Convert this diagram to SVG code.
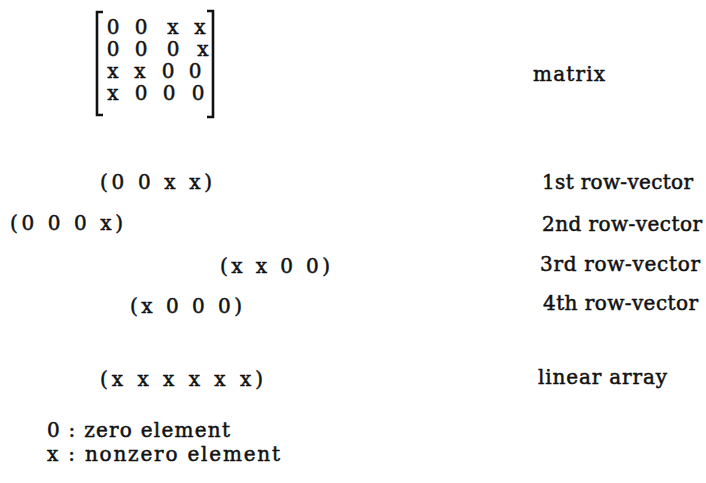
<svg xmlns="http://www.w3.org/2000/svg" width="706" height="483" viewBox="0 0 706 483">
<style>
text{font-family:"DejaVu Serif","Liberation Serif",serif;font-size:20px;fill:#111;stroke:#111;stroke-width:0.5}
.m{text-anchor:middle}
.br{fill:none;stroke:#111;stroke-width:2.6}
</style>
<rect width="706" height="483" fill="#fff"/>
<g id="matrix">
<path class="br" d="M103,12 H97 V115 H103"/>
<path class="br" d="M207,11 H213 V117 H207"/>
<text class="m" x="113" y="34">0</text><text class="m" x="141" y="34">0</text><text class="m" x="173" y="34">x</text><text class="m" x="200" y="34">x</text>
<text class="m" x="113" y="56">0</text><text class="m" x="141" y="56">0</text><text class="m" x="173" y="56">0</text><text class="m" x="203" y="56">x</text>
<text class="m" x="113" y="78">x</text><text class="m" x="140" y="78">x</text><text class="m" x="168" y="78">0</text><text class="m" x="195" y="78">0</text>
<text class="m" x="113" y="100">x</text><text class="m" x="141" y="100">0</text><text class="m" x="169" y="100">0</text><text class="m" x="198" y="100">0</text>
</g>
<g id="vectors">
<text x="100" y="189" textLength="112">(0 0 x x)</text>
<text x="10" y="230" textLength="113">(0 0 0 x)</text>
<text x="220" y="273" textLength="110">(x x 0 0)</text>
<text x="130" y="313" textLength="112">(x 0 0 0)</text>
<text x="100" y="386" textLength="163">(x x x x x x)</text>
</g>
<g id="labels">
<text x="533" y="81" textLength="72">matrix</text>
<text x="542" y="189" textLength="151">1st row-vector</text>
<text x="542" y="231" textLength="160">2nd row-vector</text>
<text x="540" y="271" textLength="160">3rd row-vector</text>
<text x="543" y="310" textLength="155">4th row-vector</text>
<text x="538" y="384" textLength="129">linear array</text>
</g>
<g id="legend">
<text x="47" y="437" textLength="183">0 : zero element</text>
<text x="47" y="461" textLength="233">x : nonzero element</text>
</g>
</svg>
